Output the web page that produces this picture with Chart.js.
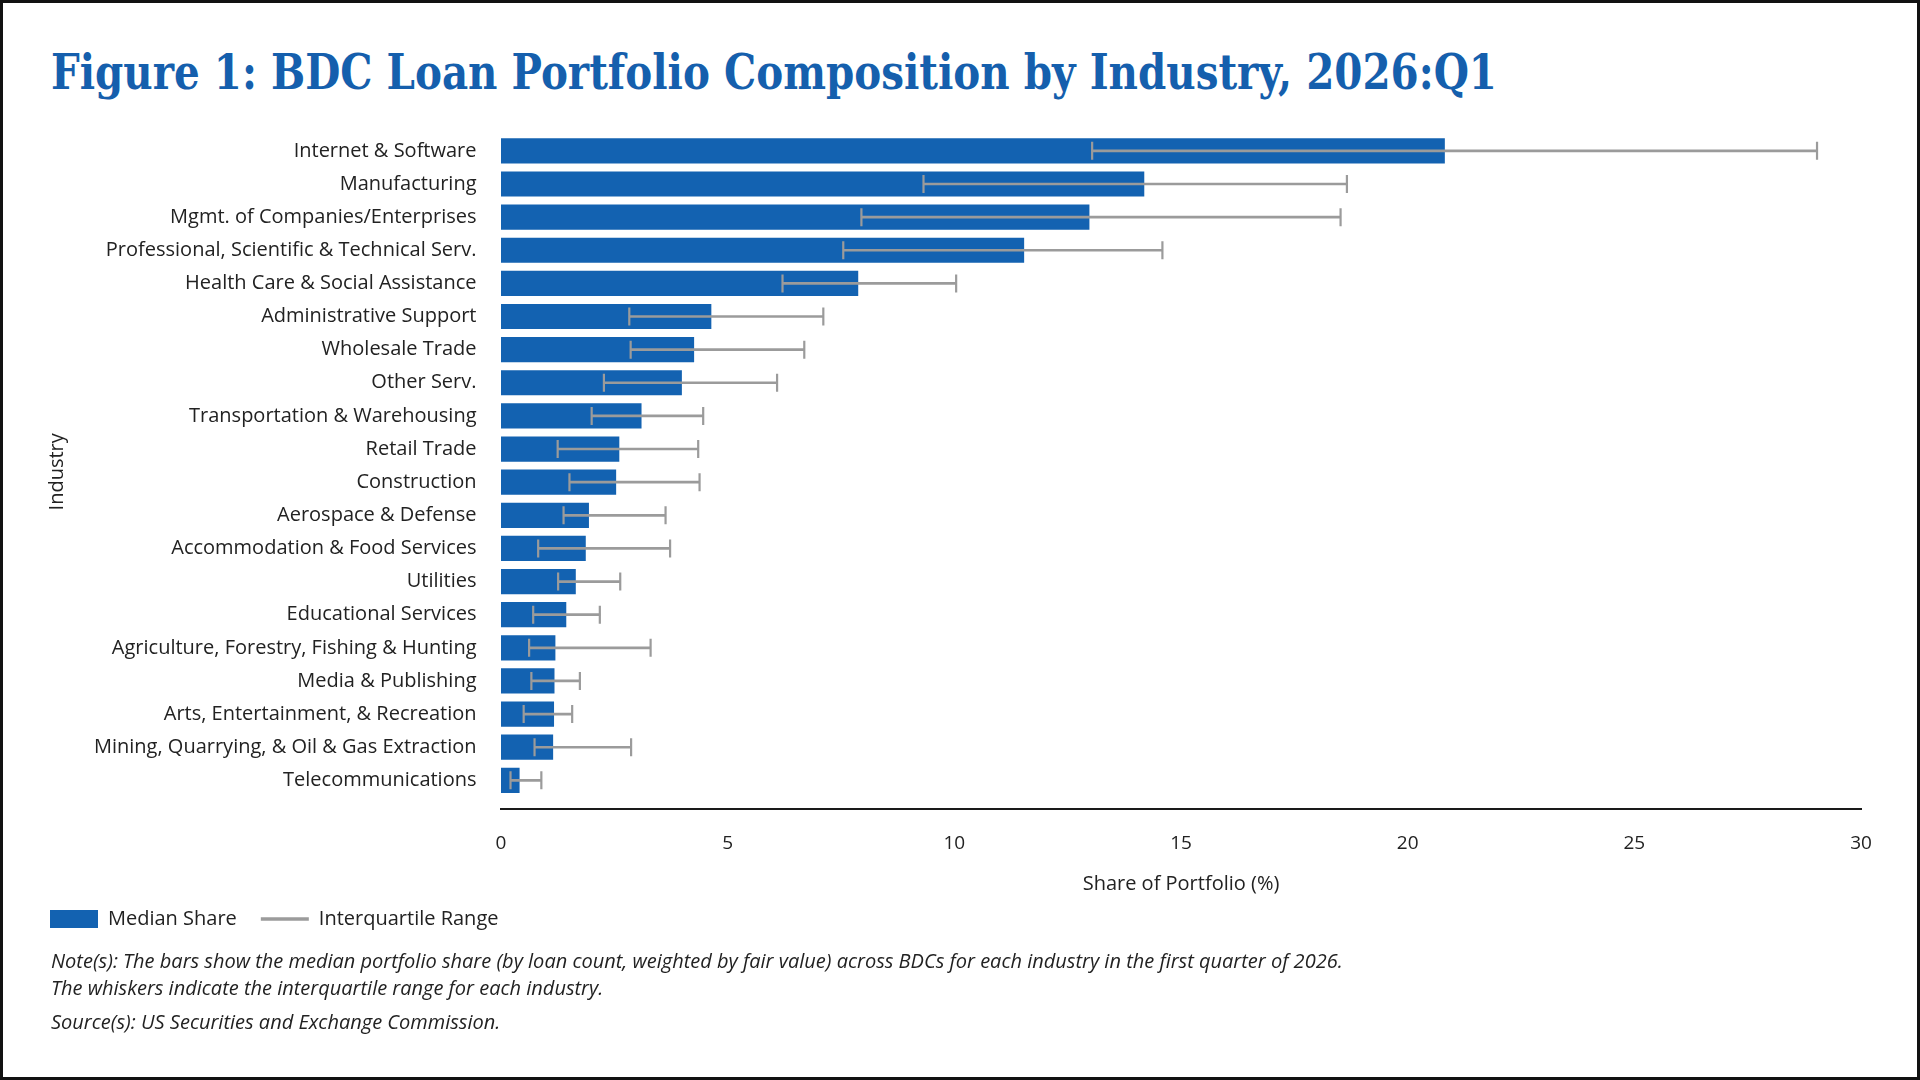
<!DOCTYPE html>
<html>
<head>
<meta charset="utf-8">
<script src="https://cdn.jsdelivr.net/npm/chart.js@4.4.1/dist/chart.umd.min.js"></script>
<style>
html,body{margin:0;padding:0;background:#fff;}
#page{position:relative;width:1920px;height:1080px;overflow:hidden;background:#fff;}
#frame{position:absolute;left:0;top:0;width:1920px;height:1080px;box-sizing:border-box;border:3px solid #111;pointer-events:none;z-index:5;}
#title{position:absolute;left:51px;top:47.7px;margin:0;font-weight:bold;font-size:48px;line-height:48px;font-family:'DejaVu Serif',serif;color:#155fad;white-space:nowrap;transform-origin:0 0;}
#wrap{position:absolute;left:0;top:0;width:1920px;height:1080px;}
.note{position:absolute;left:51px;font-style:italic;font-size:20px;line-height:26.7px;font-family:'Open Sans',sans-serif;color:#222;white-space:nowrap;}
</style>
</head>
<body>
<div id="page">
  <h1 id="title">Figure 1: BDC Loan Portfolio Composition by Industry, 2026:Q1</h1>
  <div id="wrap"><canvas id="c"></canvas></div>
  <div class="note" style="top:948.2px">Note(s): The bars show the median portfolio share (by loan count, weighted by fair value) across BDCs for each industry in the first quarter of 2026.<br>The whiskers indicate the interquartile range for each industry.</div>
  <div class="note" style="top:1008.9px">Source(s): US Securities and Exchange Commission.</div>
  <div id="frame"></div>
</div>
<script>
const categories = [
  'Internet & Software',
  'Manufacturing',
  'Mgmt. of Companies/Enterprises',
  'Professional, Scientific & Technical Serv.',
  'Health Care & Social Assistance',
  'Administrative Support',
  'Wholesale Trade',
  'Other Serv.',
  'Transportation & Warehousing',
  'Retail Trade',
  'Construction',
  'Aerospace & Defense',
  'Accommodation & Food Services',
  'Utilities',
  'Educational Services',
  'Agriculture, Forestry, Fishing & Hunting',
  'Media & Publishing',
  'Arts, Entertainment, & Recreation',
  'Mining, Quarrying, & Oil & Gas Extraction',
  'Telecommunications'
];
const medianShare = [20.82, 14.19, 12.98, 11.54, 7.88, 4.64, 4.26, 3.99, 3.10, 2.61, 2.54, 1.94, 1.87, 1.65, 1.44, 1.20, 1.18, 1.17, 1.15, 0.41];
const q1 = [13.04, 9.32, 7.95, 7.55, 6.21, 2.83, 2.86, 2.27, 2.00, 1.25, 1.51, 1.38, 0.82, 1.26, 0.71, 0.62, 0.67, 0.50, 0.74, 0.21];
const q3 = [29.03, 18.66, 18.52, 14.59, 10.04, 7.11, 6.69, 6.09, 4.46, 4.35, 4.38, 3.63, 3.73, 2.63, 2.18, 3.30, 1.74, 1.57, 2.87, 0.89];
const xTicks = [0, 5, 10, 15, 20, 25, 30];
const seriesNames = ['Median Share', 'Interquartile Range'];

const BLUE = '#1362b1';
const GRAY = '#9b9b9b';
const INK = '#222222';

function fitTitle() {
  const t = document.getElementById('title');
  t.style.transform = 'none';
  const w = t.getBoundingClientRect().width;
  const target = 1446;
  if (w > 0) t.style.transform = 'scaleX(' + (target / w) + ')';
}

function build() {
  fitTitle();
  Chart.defaults.font.family = "'Open Sans', sans-serif";
  Chart.defaults.color = INK;
  const idx = categories.map((_, i) => i);

  const chart = new Chart(document.getElementById('c'), {
    type: 'bar',
    data: {
      datasets: [
        {
          label: seriesNames[0],
          data: idx.map(i => ({ x: medianShare[i], y: i })),
          backgroundColor: BLUE,
          borderWidth: 0,
          barPercentage: 0.76,
          categoryPercentage: 1,
          grouped: false,
          order: 3
        },
        {
          label: seriesNames[1],
          data: idx.map(i => ({ x: [q1[i], q3[i]], y: i })),
          backgroundColor: GRAY,
          borderWidth: 0,
          barThickness: 2,
          grouped: false,
          order: 2
        },
        {
          type: 'scatter',
          label: 'Q1',
          data: idx.map(i => ({ x: q1[i], y: i })),
          pointStyle: 'line',
          pointRotation: 90,
          pointRadius: 9,
          pointBorderColor: GRAY,
          pointBorderWidth: 2.2,
          borderColor: GRAY,
          showLine: false,
          order: 1
        },
        {
          type: 'scatter',
          label: 'Q3',
          data: idx.map(i => ({ x: q3[i], y: i })),
          pointStyle: 'line',
          pointRotation: 90,
          pointRadius: 9,
          pointBorderColor: GRAY,
          pointBorderWidth: 2.2,
          borderColor: GRAY,
          showLine: false,
          order: 1
        }
      ]
    },
    options: {
      indexAxis: 'y',
      responsive: true,
      maintainAspectRatio: false,
      animation: false,
      events: [],
      layout: { padding: { left: 26, right: 59, top: 134.3, bottom: 130 } },
      scales: {
        x: {
          type: 'linear',
          position: 'bottom',
          min: 0,
          max: 30,
          offset: false,
          afterBuildTicks: s => { s.ticks = xTicks.map(v => ({ value: v })); },
          ticks: { padding: 22.5, font: { size: 19 }, color: INK, maxRotation: 0 },
          grid: { display: false, drawTicks: false },
          border: { display: true, color: '#1a1a1a', width: 2 },
          title: { display: true, text: 'Share of Portfolio (%)', font: { size: 20 }, color: INK, padding: { top: 0, bottom: -11.1 } },
          afterFit: s => { s.height = 75.6; }
        },
        y: {
          type: 'linear',
          reverse: true,
          min: -0.5,
          max: 19.877,
          bounds: 'data',
          offset: false,
          afterBuildTicks: s => { s.ticks = categories.map((_, i) => ({ value: i })); },
          ticks: { autoSkip: false, padding: 24.5, font: { size: 20 }, color: INK, callback: v => categories[v] },
          grid: { display: false, drawTicks: false, offset: false },
          border: { display: false },
          title: { display: true, text: 'Industry', font: { size: 20 }, color: INK, padding: { top: 19.5, bottom: 0 } },
          afterFit: s => { s.width = 475; }
        }
      },
      plugins: {
        tooltip: { enabled: false },
        legend: {
          position: 'bottom',
          align: 'start',
          labels: {
            usePointStyle: true,
            pointStyleWidth: 48,
            boxHeight: 18,
            padding: 24,
            font: { size: 20 },
            color: INK,
            generateLabels: (ch) => [
              { text: ch.data.datasets[0].label, fillStyle: BLUE, strokeStyle: BLUE, lineWidth: 0, pointStyle: 'rect', hidden: false, datasetIndex: 0, fontColor: INK },
              { text: ch.data.datasets[1].label, fillStyle: GRAY, strokeStyle: GRAY, lineWidth: 3.5, pointStyle: 'line', hidden: false, datasetIndex: 1, fontColor: INK }
            ]
          }
        }
      }
    }
  });

  const targetBottom = 809.4;
  for (let k = 0; k < 3; k++) {
    const d = chart.chartArea.bottom - targetBottom;
    if (Math.abs(d) < 0.05) break;
    chart.options.layout.padding.bottom += d;
    chart.update();
  }
}

const fontLoads = [
  document.fonts.load('20px "Open Sans"'),
  document.fonts.load('italic 20px "Open Sans"'),
  document.fonts.load('bold 48px "DejaVu Serif"')
];
Promise.all(fontLoads).catch(() => {}).then(build);
</script>
</body>
</html>
